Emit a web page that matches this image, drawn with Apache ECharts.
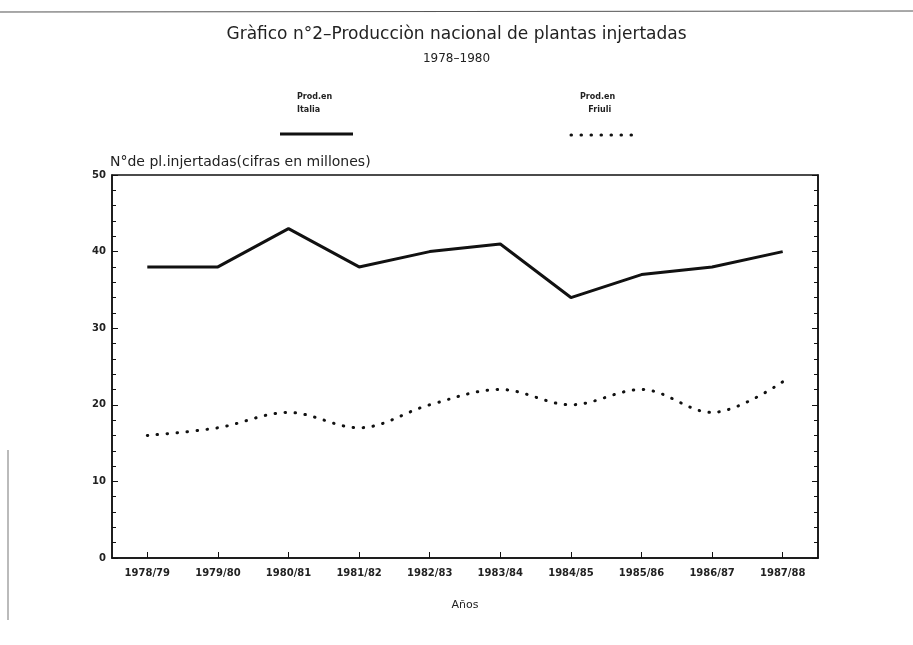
<!DOCTYPE html>
<html><head><meta charset="utf-8">
<script src="https://cdn.jsdelivr.net/npm/echarts@6/dist/echarts.min.js"></script>
<style>html,body{margin:0;padding:0;background:#fff}#c{width:913px;height:645px}</style>
</head><body><div id="c"></div>
<script>
const categories = ['1978/79','1979/80','1980/81','1981/82','1982/83','1983/84','1984/85','1985/86','1986/87','1987/88'];
const italia = [38, 38, 43, 38, 40, 41, 34, 37, 38, 40];
const friuli = [16, 17, 19, 17, 20, 22, 20, 22, 19, 23];
const yTicks = [0, 10, 20, 30, 40, 50];

const chart = echarts.init(document.getElementById('c'));
const F = 'DejaVu Sans';
const yBase = {
  type: 'value', min: yTicks[0], max: yTicks[yTicks.length-1], interval: 10,
  axisLine: {show: true, lineStyle: {color: '#111', width: 1.5}},
  axisTick: {show: true, inside: true, length: 6, lineStyle: {color: '#111', width: 1}},
  minorTick: {show: true, splitNumber: 5, length: 4, lineStyle: {color: '#111', width: 1}},
  splitLine: {show: false}
};
chart.setOption({
  animation: false,
  backgroundColor: '#fff',
  title: [
    {text: 'Gràfico n°2–Producciòn nacional de plantas injertadas', left: 'center', top: 21,
     textStyle: {fontFamily: F, fontSize: 17, fontWeight: 'normal', color: '#222'}},
    {text: '1978–1980', left: 'center', top: 48,
     textStyle: {fontFamily: F, fontSize: 12, fontWeight: 'normal', color: '#222'}}
  ],
  grid: {left: 112, right: 95, top: 175, bottom: 87, show: true, borderColor: '#111', borderWidth: 1.5},
  xAxis: {
    type: 'category', data: categories, boundaryGap: true,
    name: 'Años', nameLocation: 'middle', nameGap: 42,
    nameTextStyle: {fontFamily: F, fontSize: 11, color: '#222'},
    axisLine: {lineStyle: {color: '#111', width: 1.5}},
    axisTick: {show: true, inside: true, alignWithLabel: true, interval: 0, length: 6, lineStyle: {color: '#111'}},
    axisLabel: {interval: 0, margin: 10, fontFamily: F, fontSize: 10, fontWeight: 'bold', color: '#222'}
  },
  yAxis: [
    Object.assign({}, yBase, {
      position: 'left',
      name: 'N°de pl.injertadas(cifras en millones)', nameLocation: 'end', nameGap: 6,
      nameTextStyle: {fontFamily: F, fontSize: 14, color: '#222', align: 'left', padding: [0,0,0,-2]},
      axisLabel: {margin: 6, fontFamily: F, fontSize: 10, fontWeight: 'bold', color: '#222'}
    }),
    Object.assign({}, yBase, {position: 'right', axisLabel: {show: false}})
  ],
  series: [
    {name: 'Prod.en Italia', type: 'line', data: italia, yAxisIndex: 0, symbol: 'none',
     lineStyle: {color: '#111', width: 3}},
    {name: 'Prod.en Friuli', type: 'line', data: friuli, yAxisIndex: 0, symbol: 'none', smooth: 0.35,
     lineStyle: {color: '#111', width: 3, type: [0.5, 9.5], cap: 'round'}}
  ],
  graphic: [
    {type: 'line', shape: {x1: 0, y1: 12, x2: 913, y2: 11}, style: {stroke: '#555', lineWidth: 1.2}},
    {type: 'line', shape: {x1: 8, y1: 450, x2: 8, y2: 620}, style: {stroke: '#bbb', lineWidth: 2}},
    {type: 'text', left: 297, top: 90, style: {text: 'Prod.en\nItalia', fontFamily: F, fontSize: 8, fontWeight: 'bold', fill: '#222', lineHeight: 13, align: 'left'}},
    {type: 'line', shape: {x1: 280, y1: 134, x2: 353, y2: 134}, style: {stroke: '#111', lineWidth: 3}},
    {type: 'text', left: 580, top: 90, style: {text: 'Prod.en\n   Friuli', fontFamily: F, fontSize: 8, fontWeight: 'bold', fill: '#222', lineHeight: 13, align: 'left'}},
    {type: 'line', shape: {x1: 571, y1: 135, x2: 641, y2: 135}, style: {stroke: '#111', lineWidth: 3, lineDash: [0.5, 9.5], lineCap: 'round'}}
  ]
});
</script></body></html>
